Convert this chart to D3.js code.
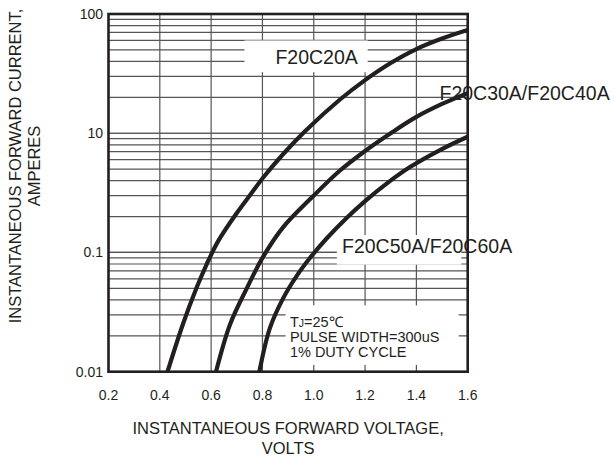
<!DOCTYPE html>
<html>
<head>
<meta charset="utf-8">
<title>Forward characteristics</title>
<script src="https://d3js.org/d3.v7.min.js"></script>
<style>
  body { margin: 0; background: #fff; }
  svg text { font-family: "Liberation Sans", Arial, sans-serif; fill: #231f20; }
</style>
</head>
<body>
<svg id="chart" width="615" height="461"></svg>
<script>
// forward voltage (V) on x, forward current (A) on a log y axis
const xTicks = [0.2, 0.4, 0.6, 0.8, 1.0, 1.2, 1.4, 1.6];
const xTickLabels = ["0.2", "0.4", "0.6", "0.8", "1.0", "1.2", "1.4", "1.6"];
const yTicks = [100, 10, 1, 0.1];
const yTickLabels = ["100", "10", "0.1", "0.01"]; // printed like this on the sheet

const f20c20Volts = [0.43, 0.49, 0.544, 0.583, 0.628, 0.70, 0.752, 0.803, 0.881, 0.966, 1.10, 1.20, 1.30, 1.40, 1.50, 1.60];
const f20c20Amps  = [0.1, 0.25, 0.51, 0.80, 1.25, 2.14, 3.03, 4.25, 6.7, 10.4, 19.0, 27.9, 38.8, 50.8, 62.2, 73.4];

const f20c30Volts = [0.619, 0.674, 0.739, 0.80, 0.881, 0.998, 1.10, 1.20, 1.30, 1.40, 1.50, 1.60];
const f20c30Amps  = [0.1, 0.25, 0.50, 0.90, 1.63, 2.97, 4.82, 7.1, 10.0, 13.7, 17.6, 21.7];

const f20c50Volts = [0.788, 0.829, 0.881, 0.933, 0.985, 1.05, 1.128, 1.20, 1.284, 1.375, 1.492, 1.60];
const f20c50Amps  = [0.1, 0.232, 0.414, 0.634, 0.898, 1.31, 1.95, 2.70, 3.78, 5.2, 7.23, 9.35];

const seriesNames = ["F20C20A", "F20C30A/F20C40A", "F20C50A/F20C60A"];
const noteLines = ["PULSE WIDTH=300uS", "1% DUTY CYCLE"];

const svg = d3.select("#chart");
const pl = 108.5, pr = 467.7, pt = 14, pb = 371.7;

const x = d3.scaleLinear([0.2, 1.6], [pl, pr]);
const y = d3.scaleLog([0.1, 100], [pb, pt]);

const gridCol = "#555";
const ink = "#231f20";

// grid
const minor = [];
[0.1, 1, 10].forEach(d => { for (let k = 1; k <= 10; k++) minor.push(d * k); });

svg.append("g").selectAll("line")
  .data(minor).join("line")
    .attr("x1", pl).attr("x2", pr)
    .attr("y1", d => y(d)).attr("y2", d => y(d))
    .attr("stroke", gridCol).attr("stroke-width", 1.2);

svg.append("g").selectAll("line")
  .data(xTicks.slice(1, -1)).join("line")
    .attr("x1", d => x(d)).attr("x2", d => x(d))
    .attr("y1", pt).attr("y2", pb)
    .attr("stroke", gridCol).attr("stroke-width", 1.2);

// white patches behind the labels
function patch(v0, v1, a0, a1) {
  svg.append("rect")
    .attr("x", x(v0)).attr("width", x(v1) - x(v0))
    .attr("y", y(a0)).attr("height", y(a1) - y(a0))
    .attr("fill", "#fff");
}
patch(0.73, 1.21, 60, 32.5);
patch(1.09, 1.575, 1.4, 0.79);
patch(0.89, 1.565, 0.36, 0.114);

// frame
svg.append("rect")
  .attr("x", pl).attr("y", pt)
  .attr("width", pr - pl).attr("height", pb - pt)
  .attr("fill", "none").attr("stroke", ink).attr("stroke-width", 2.6);

// curves
svg.append("clipPath").attr("id", "plot")
  .append("rect").attr("x", pl).attr("y", pt)
  .attr("width", pr - pl).attr("height", pb - pt);

const line = d3.line()
  .x(d => x(d[0])).y(d => y(d[1]))
  .curve(d3.curveCatmullRom.alpha(0.5));

[[f20c20Volts, f20c20Amps], [f20c30Volts, f20c30Amps], [f20c50Volts, f20c50Amps]]
  .forEach(([vs, as]) => {
    svg.append("path")
      .attr("d", line(d3.zip(vs, as)))
      .attr("clip-path", "url(#plot)")
      .attr("fill", "none").attr("stroke", ink).attr("stroke-width", 4.2);
  });

// tick labels
svg.append("g").selectAll("text")
  .data(xTicks).join("text")
    .attr("x", d => x(d)).attr("y", 400)
    .attr("text-anchor", "middle").attr("font-size", 14)
    .text((d, i) => xTickLabels[i]);

svg.append("g").selectAll("text")
  .data(yTicks).join("text")
    .attr("x", 103).attr("y", d => y(d))
    .attr("dy", "0.35em")
    .attr("text-anchor", "end").attr("font-size", 14)
    .text((d, i) => yTickLabels[i]);

// curve labels
svg.append("text").attr("x", x(1.011)).attr("y", y(38))
  .attr("text-anchor", "middle").attr("font-size", 19.5).text(seriesNames[0]);
svg.append("text").attr("x", x(1.49)).attr("y", y(19))
  .attr("font-size", 19.5).text(seriesNames[1]);
svg.append("text").attr("x", x(1.11)).attr("y", y(1) + 1)
  .attr("font-size", 19.5).text(seriesNames[2]);

// test conditions
const note = svg.append("text").attr("x", x(0.907)).attr("font-size", 14.5);
const tj = note.append("tspan").attr("x", x(0.907)).attr("y", 326.7);
tj.append("tspan").text("T");
tj.append("tspan").attr("font-size", 10.5).text("J");
tj.append("tspan").text("=25\u2103");
noteLines.forEach((t, i) => {
  note.append("tspan").attr("x", x(0.907)).attr("y", 341.7 + i * 15).text(t);
});

// axis titles
const cx = (pl + pr) / 2;
svg.append("text").attr("x", cx).attr("y", 434)
  .attr("text-anchor", "middle").attr("font-size", 16.5)
  .text("INSTANTANEOUS FORWARD VOLTAGE,");
svg.append("text").attr("x", cx).attr("y", 453.5)
  .attr("text-anchor", "middle").attr("font-size", 16.5)
  .text("VOLTS");

const yt = svg.append("g").attr("transform", "translate(21,166) rotate(-90)");
yt.append("text").attr("text-anchor", "middle").attr("font-size", 16.5)
  .text("INSTANTANEOUS FORWARD CURRENT,");
yt.append("text").attr("y", 19).attr("text-anchor", "middle").attr("font-size", 16.5)
  .text("AMPERES");
</script>
</body>
</html>
